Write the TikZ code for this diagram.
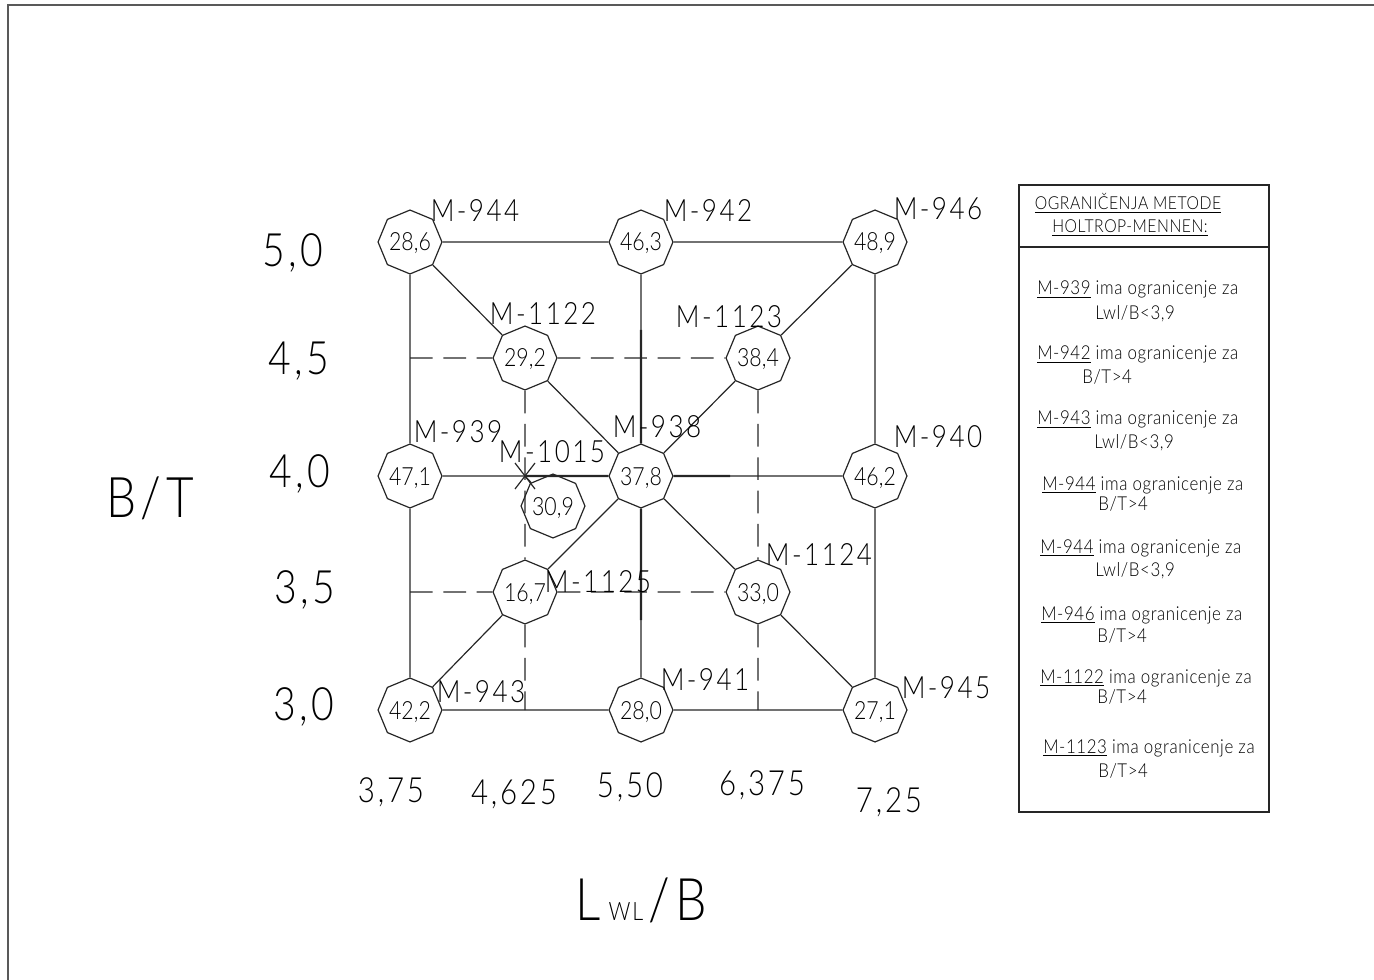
\documentclass[tikz,border=0pt]{standalone}
\usepackage{fontspec}
\newfontfamily\cadA{Lato Light}[FakeStretch=0.85,LetterSpace=8]
\newfontfamily\cadB{Lato Light}[FakeStretch=0.85]
\newfontfamily\cadC{Lato Light}[FakeStretch=0.88,LetterSpace=3]
\usetikzlibrary{shapes.geometric}
\begin{document}
\begin{tikzpicture}[x=0.75pt,y=-0.75pt,
  ln/.style={line width=0.9pt, black!85},
  thk/.style={line width=1.7pt, black!85},
  dsh/.style={line width=0.9pt, black!85, dash pattern=on 17pt off 8pt},
  oct/.style={draw, black!85, text=black, regular polygon, regular polygon sides=8, shape border rotate=22.5,
    minimum size=42pt, inner sep=0pt, line width=0.9pt,
    font=\cadB\fontsize{18.8}{20}\selectfont, text height=13.5pt, text depth=0pt},
  lbl/.style={anchor=base, inner sep=0pt, font=\cadA\fontsize{23}{24}\selectfont},
  ax/.style={anchor=base, inner sep=0pt, font=\cadA\fontsize{34.5}{36}\selectfont},
  bx/.style={anchor=base, inner sep=0pt, font=\cadA\fontsize{26}{28}\selectfont},
  leg/.style={anchor=base west, inner sep=0pt, font=\cadC\fontsize{14.4}{16}\selectfont},
  hdr/.style={anchor=base, inner sep=0pt, font=\cadC\fontsize{13.4}{15}\selectfont}]
\useasboundingbox (0,0) rectangle (1374,980);
% outer frame
\draw[line width=1.4pt, black!65] (8,980) -- (8,5) -- (1374,5);

% octagons
\node[oct] (n944) at (410,242) {28,6};
\node[oct] (n942) at (641,242) {46,3};
\node[oct] (n946) at (875,242) {48,9};
\node[oct] (n1122) at (525,358) {29,2};
\node[oct] (n1123) at (758,358) {38,4};
\node[oct] (n939) at (410,476) {47,1};
\node[oct] (n938) at (641,476) {37,8};
\node[oct] (n940) at (875,476) {46,2};
\node[oct, minimum size=39pt] (n1015) at (553,506) {30,9};
\node[oct] (n1125) at (525,592) {16,7};
\node[oct] (n1124) at (758,592) {33,0};
\node[oct] (n943) at (410,710) {42,2};
\node[oct] (n941) at (641,710) {28,0};
\node[oct] (n945) at (875,710) {27,1};

% helper coordinates
\coordinate (st) at (525,476);
\coordinate (cl358) at (410,358);
\coordinate (cl592) at (410,592);
\coordinate (cb525) at (525,710);
\coordinate (cb758) at (758,710);
\coordinate (ch730) at (730,476);
\coordinate (cv330) at (641,330);
\coordinate (cv620) at (641,620);

% solid grid lines
\draw[ln] (n944) -- (n942);
\draw[ln] (n942) -- (n946);
\draw[ln] (n943) -- (n941);
\draw[ln] (n941) -- (n945);
\draw[ln] (n944) -- (n939);
\draw[ln] (n939) -- (n943);
\draw[ln] (n946) -- (n940);
\draw[ln] (n940) -- (n945);
\draw[ln] (n942) -- (n938);
\draw[ln] (n938) -- (n941);
\draw[ln] (n939) -- (n938);
\draw[ln] (n938) -- (n940);
% diagonals
\draw[ln] (n944) -- (n1122);
\draw[ln] (n1122) -- (n938);
\draw[ln] (n938) -- (n1124);
\draw[ln] (n1124) -- (n945);
\draw[ln] (n943) -- (n1125);
\draw[ln] (n1125) -- (n938);
\draw[ln] (n938) -- (n1123);
\draw[ln] (n1123) -- (n946);
% thick cross around M-938
\draw[thk] (st) -- (n938.west);
\draw[thk] (n938.east) -- (ch730);
\draw[thk] (cv330) -- (n938.north);
\draw[thk] (n938.south) -- (cv620);

% dashed lines
\draw[dsh] (cl358) -- (n1122);
\draw[dsh] (n1122) -- (n1123);
\draw[dsh] (cl592) -- (n1125);
\draw[dsh] (n1125) -- (n1124);
\draw[dsh] (n1122) -- (n1125);
\draw[dsh] (n1125) -- (cb525);
\draw[dsh] (n1123) -- (n1124);
\draw[dsh] (n1124) -- (cb758);

% star M-1015
\draw[ln] (st) ++(-10,-13) -- ++(20,26);
\draw[ln] (st) ++(10,-13) -- ++(-20,26);
\draw[ln] (st) -- (n1015);

% labels
\node[lbl] (l944) at (475,222) {M-944};
\node[lbl] (l942) at (708,222) {M-942};
\node[lbl] (l946) at (938,220) {M-946};
\node[lbl] (l1122) at (543,325) {M-1122};
\node[lbl] (l1123) at (729,328) {M-1123};
\node[lbl] (l939) at (458,442) {M-939};
\node[lbl] (l1015) at (552,462) {M-1015};
\node[lbl] (l938) at (657,437) {M-938};
\node[lbl] (l940) at (938,447) {M-940};
\node[lbl] (l1124) at (819,565) {M-1124};
\node[lbl] (l1125) at (598,592) {M-1125};
\node[lbl] (l943) at (481,702) {M-943};
\node[lbl] (l941) at (705,690) {M-941};
\node[lbl] (l945) at (946,698) {M-945};

% axis values
\node[ax] (y50) at (293,267) {5,0};
\node[ax] (y45) at (299,375) {4,5};
\node[ax] (y40) at (300,487) {4,0};
\node[ax] (y35) at (305,603) {3,5};
\node[ax] (y30) at (304,720) {3,0};
\node[bx] (x375) at (391,802) {3,75};
\node[bx] (x4625) at (514,804) {4,625};
\node[bx] (x550) at (630,797) {5,50};
\node[bx] (x6375) at (762,795) {6,375};
\node[bx] (x725) at (889,812) {7,25};
\node[anchor=base, inner sep=0pt, font=\cadA\fontsize{42}{44}\selectfont] (bt) at (150,517) {B/T};
\node[anchor=base west, inner sep=0pt] (lwl) at (575,920)
  {\cadA\fontsize{44}{46}\selectfont L\hspace{6pt}{\fontsize{19}{20}\selectfont WL}\hspace{4pt}/\hspace{4pt}B};

% legend box
\draw[ln] (1019,185) rectangle (1269,812);
\draw[line width=1.5pt, black!85] (1019,247) -- (1269,247);
\node[hdr] (h1) at (1128,210) {\underline{OGRANIČENJA METODE}};
\node[hdr] (h2) at (1130,233) {\underline{HOLTROP-MENNEN:}};
\node[leg] (e1a) at (1037,295) {\underline{M-939} ima ogranicenje za};
\node[leg] (e1b) at (1095,320) {Lwl/B<3,9};
\node[leg] (e2a) at (1037,360) {\underline{M-942} ima ogranicenje za};
\node[leg] (e2b) at (1082,383) {B/T>4};
\node[leg] (e3a) at (1037,425) {\underline{M-943} ima ogranicenje za};
\node[leg] (e3b) at (1094,448) {Lwl/B<3,9};
\node[leg] (e4a) at (1042,490) {\underline{M-944} ima ogranicenje za};
\node[leg] (e4b) at (1098,510) {B/T>4};
\node[leg] (e5a) at (1040,553) {\underline{M-944} ima ogranicenje za};
\node[leg] (e5b) at (1095,576) {Lwl/B<3,9};
\node[leg] (e6a) at (1041,620) {\underline{M-946} ima ogranicenje za};
\node[leg] (e6b) at (1097,642) {B/T>4};
\node[leg] (e7a) at (1040,683) {\underline{M-1122} ima ogranicenje za};
\node[leg] (e7b) at (1097,703) {B/T>4};
\node[leg] (e8a) at (1043,753) {\underline{M-1123} ima ogranicenje za};
\node[leg] (e8b) at (1098,777) {B/T>4};
\end{tikzpicture}
\end{document}
